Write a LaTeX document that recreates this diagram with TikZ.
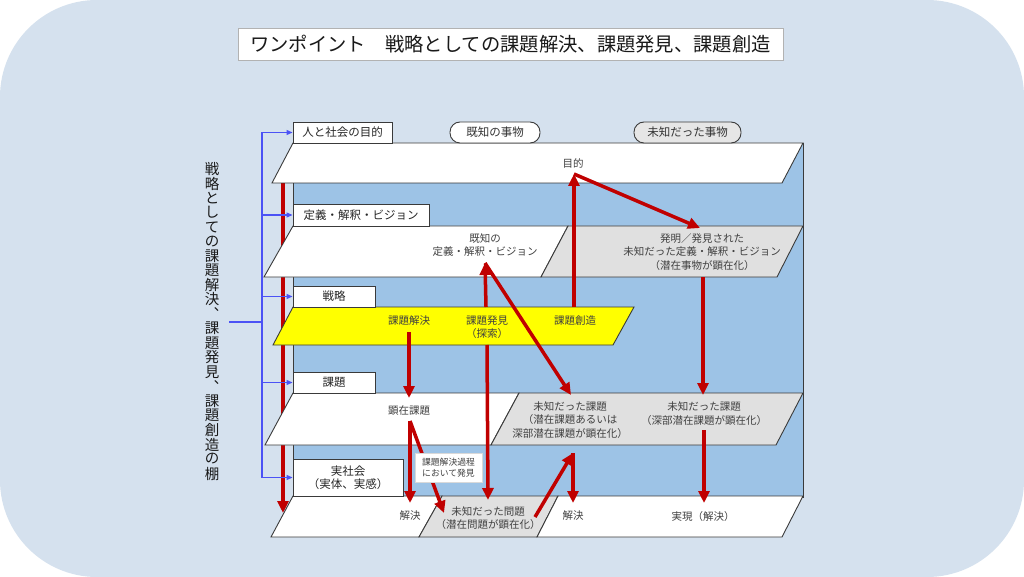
\documentclass[tikz,border=0pt]{standalone}
\usepackage{fontspec}
\setmainfont{Noto Sans CJK JP}
\usetikzlibrary{arrows.meta}
\definecolor{bgc}{HTML}{D5E1EE}
\definecolor{panel}{HTML}{9DC3E6}
\definecolor{redar}{HTML}{C00000}
\definecolor{grayp}{HTML}{E0E0E0}
\definecolor{yel}{HTML}{FFFF00}
\definecolor{brk}{HTML}{4B52F5}
\definecolor{edge}{HTML}{3A3A3A}
\definecolor{txt}{HTML}{404040}
\tikzset{
  shelf/.style={draw=edge, line width=0.9pt, fill=white, line join=miter},
  shelfgray/.style={shelf, fill=grayp},
  shelfyel/.style={shelf, fill=yel},
  lab/.style={draw=edge, line width=0.9pt, fill=white, inner sep=0pt, font=\fontsize{11.5}{13.5}\selectfont, text=black!85, align=center},
  tagbox/.style={draw=edge, line width=0.9pt, rounded corners=10pt, inner sep=0pt, minimum height=21pt, font=\fontsize{11.5}{13.5}\selectfont, text=black!80},
  itxt/.style={font=\fontsize{10.5}{13.5}\selectfont, text=txt, align=center, inner sep=0pt},
  rar/.style={draw=redar, line width=3.5pt, -{Triangle[length=12pt,width=11pt]}},
  bar/.style={draw=brk, line width=1.1pt, -{Triangle[length=6pt,width=5pt]}},
  brline/.style={draw=brk, line width=1.1pt},
  vch/.style={font=\fontsize{14.5}{14.5}\selectfont, inner sep=0pt, text=black!90},
}
\begin{document}
\begin{tikzpicture}[x=1pt,y=-1pt]
\useasboundingbox (0,0) rectangle (1024,577);
\fill[white] (0,0) rectangle (1024,577);
\fill[bgc, rounded corners=97pt] (0,0) rectangle (1024,577);

% title
\node[draw=black!30, line width=0.8pt, fill=white, minimum width=545pt, minimum height=32pt, inner sep=0pt,
      font=\fontsize{19.3}{21}\selectfont, text=black!90] (title) at (510.5,44)
      {ワンポイント　戦略としての課題解決、課題発見、課題創造};

% back panel
\path[draw=edge, line width=0.9pt, fill=panel] (293,143) rectangle (803,497);

% left red arrow (behind shelves)
\coordinate (lr1) at (283,183);
\coordinate (lr2) at (283,513);
\draw[rar] (lr1) -- (lr2);

% shelves
\path[shelf] (293,143) -- (803,143) -- (782,183) -- (272,183) -- cycle;
\path[shelf] (293,226) -- (568,226) -- (541,277) -- (264,277) -- cycle;
\path[shelfgray] (568,226) -- (803,226) -- (777,277) -- (541,277) -- cycle;
\path[shelfyel] (293,307) -- (634,307) -- (613,345) -- (273,345) -- cycle;
\path[shelf] (293,393) -- (519,393) -- (491,445) -- (265,445) -- cycle;
\path[shelfgray] (519,393) -- (803,393) -- (776,445) -- (491,445) -- cycle;
\path[shelf] (293,496) -- (442,496) -- (419,537) -- (271,537) -- cycle;
\path[shelfgray] (442,496) -- (558,496) -- (537,537) -- (419,537) -- cycle;
\path[shelf] (558,496) -- (803,496) -- (782,537) -- (537,537) -- cycle;

% label boxes
\node[lab, minimum width=99pt, minimum height=21pt] (l1) at (342.5,132.5) {人と社会の目的};
\node[lab, minimum width=136pt, minimum height=22pt] (l2) at (361,215) {定義・解釈・ビジョン};
\node[lab, minimum width=82pt, minimum height=21pt] (l3) at (334,296.5) {戦略};
\node[lab, minimum width=82pt, minimum height=21pt] (l4) at (334,382.5) {課題};
\node[lab, minimum width=110pt, minimum height=37pt] (l5) at (348,477.5) {実社会\\（実体、実感）};

\node[tagbox, fill=white, minimum width=90pt] (k1) at (495,132.5) {既知の事物};
\node[tagbox, fill=grayp!80, minimum width=107pt] (k2) at (687.5,132.5) {未知だった事物};

% blue bracket
\coordinate (bt) at (262,132.5);
\coordinate (bb) at (262,477.5);
\coordinate (bm) at (262,322);
\coordinate (bs) at (229,322);
\draw[brline] (bt) -- (bb);
\draw[brline] (bs) -- (bm);
\draw[bar] (bt) -- (l1.west);
\draw[bar] (262,215) -- (l2.west);
\draw[bar] (262,296.5) -- (l3.west);
\draw[bar] (262,382.5) -- (l4.west);
\draw[bar] (bb) -- (l5.west);

% vertical title
\foreach \i/\ch in {0/戦,1/略,2/と,3/し,4/て,5/の,6/課,7/題,8/解,9/決,10/︑,11/課,12/題,13/発,14/見,15/︑,16/課,17/題,18/創,19/造,20/の,21/棚}{
  \node[vch] (v\i) at (212,169+\i*14.5) {\ch};
}

% texts
\node[itxt] (t1) at (573,163) {目的};
\node[itxt] (t2) at (485,245) {既知の\\定義・解釈・ビジョン};
\node[itxt] (t3) at (702,252) {発明／発見された\\未知だった定義・解釈・ビジョン\\（潜在事物が顕在化）};
\node[itxt] (t4) at (409,321) {課題解決};
\node[itxt] (t5) at (487,327) {課題発見\\（探索）};
\node[itxt] (t6) at (575,321) {課題創造};
\node[itxt] (t7) at (409,411) {顕在課題};
\node[itxt] (t8) at (570,420) {未知だった課題\\（潜在課題あるいは\\深部潜在課題が顕在化）};
\node[itxt] (t9) at (704,413.5) {未知だった課題\\（深部潜在課題が顕在化）};
\node[itxt] (t10) at (410,516) {解決};
\node[itxt] (t11) at (488,518) {未知だった問題\\（潜在問題が顕在化）};
\node[itxt] (t12) at (573,516) {解決};
\node[itxt] (t13) at (703,517) {実現（解決）};

% red arrows
\coordinate (pSozo) at (574,307);
\coordinate (pMok) at (574,174);
\coordinate (pHat) at (700,228);
\coordinate (pHatB) at (703,277);
\coordinate (pMiR) at (703,395);
\coordinate (pMiRB) at (704,430);
\coordinate (pJit) at (704,503);
\coordinate (pHakT) at (486,307);
\coordinate (pKichi) at (485,263);
\coordinate (pMiL) at (571,395);
\coordinate (pHakB) at (487,345);
\coordinate (pMon) at (488,500);
\coordinate (pKaiB) at (409,332);
\coordinate (pKen) at (409,398);
\coordinate (pKenB) at (410,421);
\coordinate (pKai1) at (410,503);
\coordinate (pMonT) at (444,513);
\coordinate (pMonR) at (535,517);
\coordinate (pMiLB) at (573,453);
\coordinate (pKai2) at (573,503);

\draw[rar] (pSozo) -- (pMok);
\draw[rar] (pMok) -- (pHat);
\draw[rar] (pHatB) -- (pMiR);
\draw[rar] (pMiRB) -- (pJit);
\draw[rar] (pHakT) -- (pKichi);
\draw[rar] (pKichi) -- (pMiL);
\draw[rar] (pHakB) -- (pMon);
\draw[rar] (pKaiB) -- (pKen);
\draw[rar] (pKenB) -- (pKai1);
\draw[rar] (pKenB) -- (pMonT);
\draw[rar] (pMonR) -- (pMiLB);
\draw[rar] (pMiLB) -- (pKai2);

% callout
\node[draw=black!15, fill=white, minimum width=67pt, minimum height=29pt, inner sep=0pt,
      font=\fontsize{8.8}{10.5}\selectfont, text=txt, align=center] (call) at (448.5,467.5)
      {課題解決過程\\において発見};
\end{tikzpicture}
\end{document}
